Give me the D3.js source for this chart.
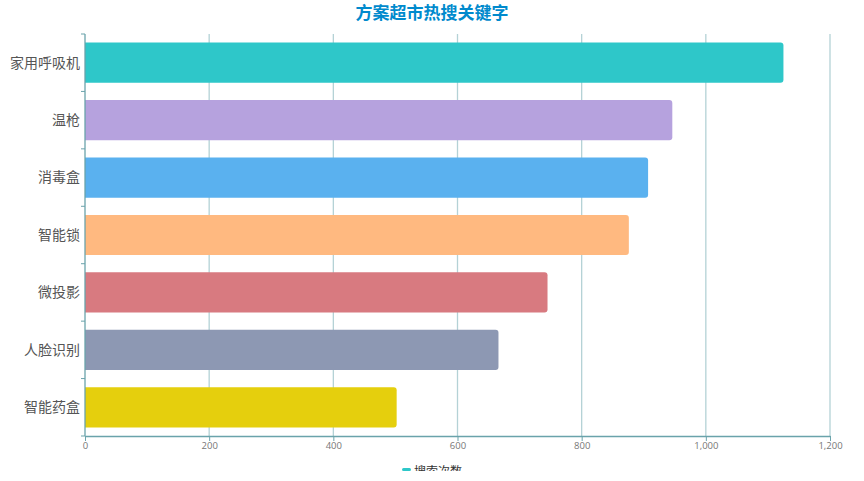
<!DOCTYPE html>
<html>
<head>
<meta charset="utf-8">
<script src="https://cdn.jsdelivr.net/npm/d3@7"></script>
<style>
  html, body { margin: 0; padding: 0; background: #fff; }
  #chart { width: 864px; height: 481px; overflow: hidden; }
  svg { display: block; overflow: hidden; font-family: "Noto Sans CJK SC", "Noto Sans", sans-serif; }
</style>
</head>
<body>
<div id="chart"></div>
<script>
// search keywords, top to bottom
const categories = ['家用呼吸机', '温枪', '消毒盒', '智能锁', '微投影', '人脸识别', '智能药盒'];
const values = [1125, 946, 907, 876, 745, 666, 502];
const barColors = ['#2ec7c9', '#b6a2de', '#5ab1ef', '#ffb980', '#d87a80', '#8d98b3', '#e5cf0d'];
const xTicks = [0, 200, 400, 600, 800, 1000, 1200];
const titleText = '方案超市热搜关键字';
const seriesName = '搜索次数';

const width = 864, height = 471;
const margin = {top: 34, right: 34, bottom: 45, left: 85};

const svg = d3.select('#chart').append('svg')
  .attr('width', width)
  .attr('height', height);

const x = d3.scaleLinear().domain([0, 1200]).range([margin.left, width - margin.right]);
const y = d3.scaleBand().domain(categories)
  .range([margin.top, 436])
  .paddingInner(0.3).paddingOuter(0.15);

// vertical split lines
svg.append('g').selectAll('line').data(xTicks.slice(1)).enter().append('line')
  .attr('x1', d => x(d)).attr('x2', d => x(d))
  .attr('y1', margin.top).attr('y2', 436)
  .attr('stroke', '#b4d2d6').attr('stroke-width', 1.3);

// bars, rounded on the right end
const r = 3;
svg.append('g').selectAll('path').data(categories).enter().append('path')
  .attr('d', (d, i) => {
    const x0 = x(0), x1 = x(values[i]), y0 = y(d), h = y.bandwidth();
    return `M${x0},${y0}H${x1 - r}Q${x1},${y0} ${x1},${y0 + r}V${y0 + h - r}Q${x1},${y0 + h} ${x1 - r},${y0 + h}H${x0}Z`;
  })
  .attr('fill', (d, i) => barColors[i]);

// x axis
const xAxis = svg.append('g').attr('transform', 'translate(0,436)')
  .call(d3.axisBottom(x).tickValues(xTicks).tickFormat(d3.format(',d')).tickSize(5).tickSizeOuter(0));
xAxis.select('.domain').attr('stroke', '#6aa3ab').attr('stroke-width', 1.3);
xAxis.selectAll('.tick line').attr('stroke', '#6aa3ab');
xAxis.selectAll('text').attr('fill', '#777').attr('font-size', 9.5).attr('dy', '0.55em')
  .attr('font-family', '"Open Sans", sans-serif');

// y axis, ticks at band boundaries
const yg = svg.append('g');
yg.append('line')
  .attr('x1', margin.left).attr('x2', margin.left)
  .attr('y1', margin.top).attr('y2', 436)
  .attr('stroke', '#6aa3ab').attr('stroke-width', 1.3);
const bounds = d3.range(categories.length + 1).map(i => margin.top + i * (436 - margin.top) / categories.length);
yg.selectAll('.yt').data(bounds).enter().append('line')
  .attr('x1', margin.left - 4).attr('x2', margin.left)
  .attr('y1', d => d).attr('y2', d => d)
  .attr('stroke', '#6aa3ab');
yg.selectAll('text').data(categories).enter().append('text')
  .attr('x', margin.left - 5)
  .attr('y', d => y(d) + y.bandwidth() / 2)
  .attr('dy', '0.35em')
  .attr('text-anchor', 'end')
  .attr('font-size', 14)
  .attr('fill', '#555')
  .text(d => d);

// title
svg.append('text')
  .attr('x', 432).attr('y', 13)
  .attr('dy', '0.35em')
  .attr('text-anchor', 'middle')
  .attr('font-size', 17)
  .attr('font-weight', 'bold')
  .attr('fill', '#008acd')
  .text(titleText);

// legend, clipped at the bottom like the reference
const lg = svg.append('g');
lg.append('rect')
  .attr('x', 402).attr('y', 468).attr('width', 9).attr('height', 3).attr('rx', 1.5)
  .attr('fill', barColors[0]);
lg.append('text')
  .attr('x', 414).attr('y', 472)
  .attr('dy', '0.35em')
  .attr('font-size', 12)
  .attr('fill', '#333')
  .text(seriesName);
</script>
</body>
</html>
